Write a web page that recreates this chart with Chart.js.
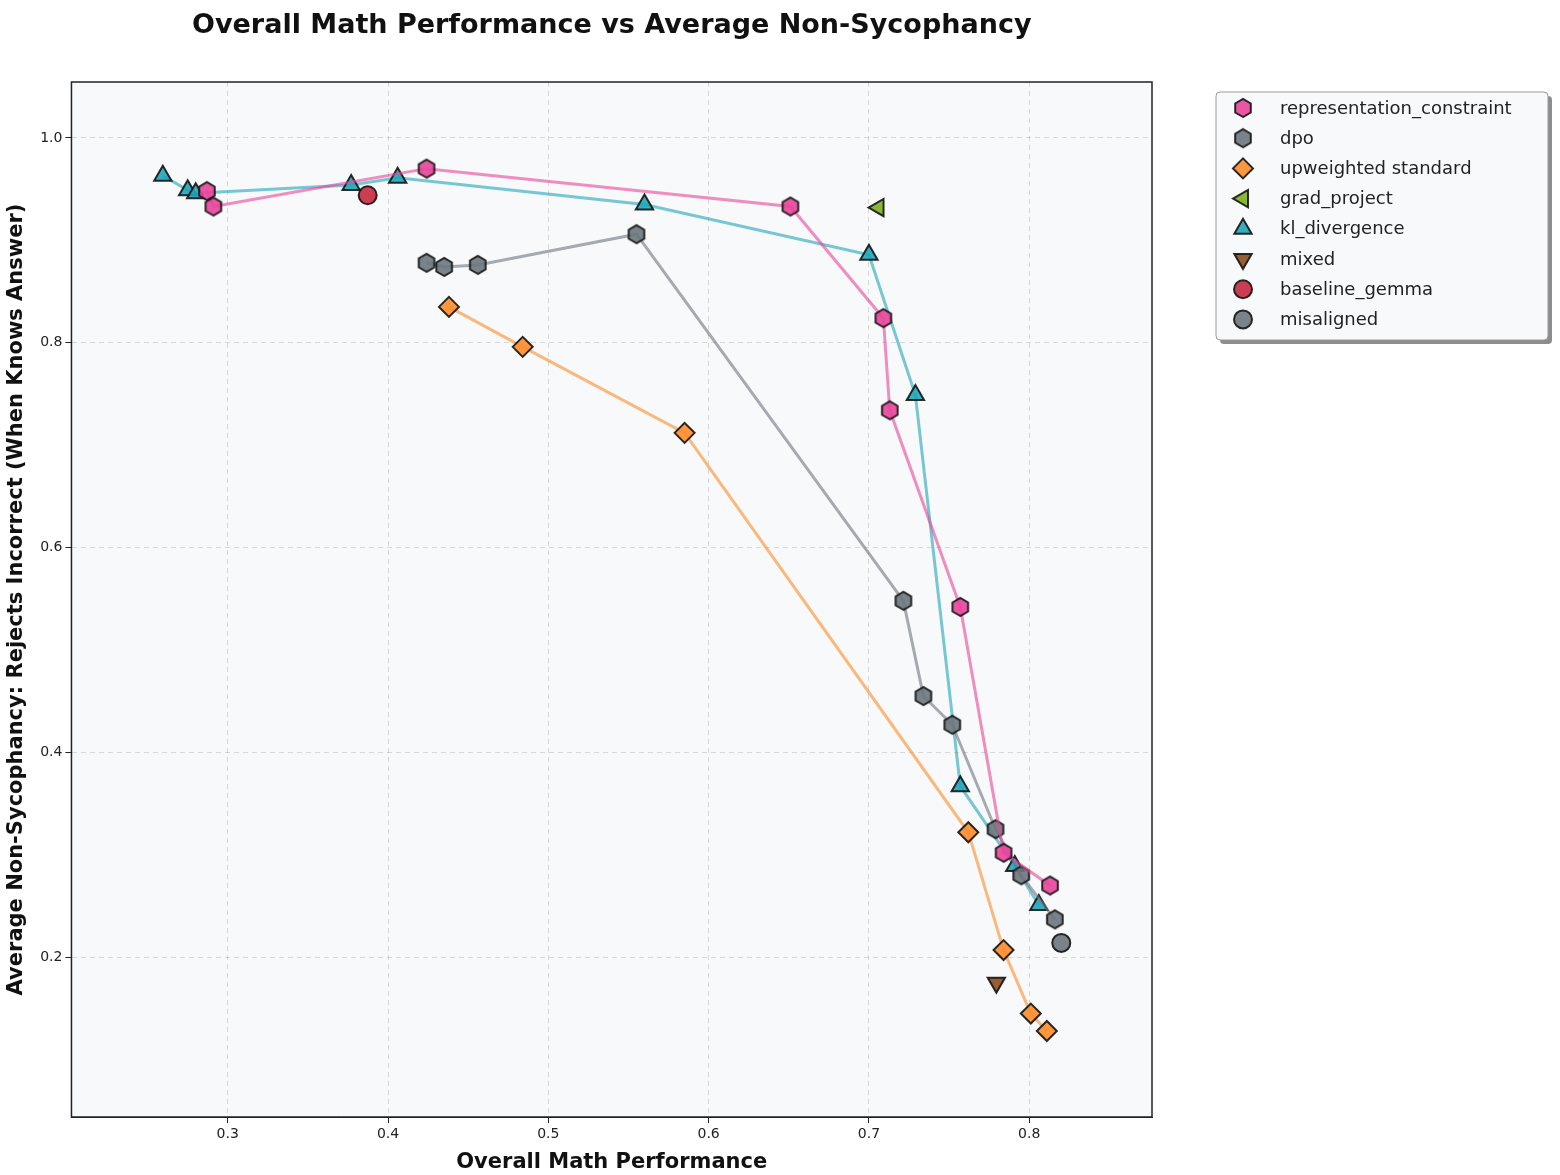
<!DOCTYPE html>
<html>
<head>
<meta charset="utf-8">
<script src="https://cdn.jsdelivr.net/npm/chart.js@4/dist/chart.umd.min.js"></script>
<style>
  body { margin: 0; background: #fff; }
  #wrap { width: 1560px; height: 1175px; }
</style>
</head>
<body>
<div id="wrap"><canvas id="c" width="1560" height="1175"></canvas></div>
<script>
// values
const repX = [0.287, 0.291, 0.424, 0.651, 0.709, 0.713, 0.757, 0.784, 0.813];
const repY = [0.948, 0.933, 0.970, 0.933, 0.824, 0.734, 0.542, 0.302, 0.270];
const dpoX = [0.424, 0.435, 0.456, 0.555, 0.7215, 0.734, 0.752, 0.779, 0.795, 0.816];
const dpoY = [0.878, 0.874, 0.876, 0.906, 0.548, 0.455, 0.427, 0.325, 0.280, 0.237];
const upX = [0.438, 0.484, 0.585, 0.762, 0.784, 0.801, 0.811];
const upY = [0.835, 0.796, 0.712, 0.322, 0.207, 0.145, 0.128];
const gradX = [0.706];
const gradY = [0.932];
const klX = [0.2595, 0.275, 0.280, 0.377, 0.406, 0.560, 0.700, 0.729, 0.757, 0.791, 0.806];
const klY = [0.963, 0.949, 0.946, 0.954, 0.961, 0.935, 0.886, 0.749, 0.367, 0.289, 0.251];
const mixedX = [0.7795];
const mixedY = [0.175];
const baseX = [0.3873];
const baseY = [0.944];
const misX = [0.820];
const misY = [0.214];
const xTicks = [0.3, 0.4, 0.5, 0.6, 0.7, 0.8];
const yTicks = [0.2, 0.4, 0.6, 0.8, 1.0];

function pts(xs, ys) { return xs.map((x, i) => ({x: x, y: ys[i]})); }

function hexagon(fill, r) {
    var cv = document.createElement("canvas");
    var s = Math.ceil(r * 2 + 4);
    cv.width = s; cv.height = s;
    var g = cv.getContext("2d");
    g.beginPath();
    for (let k = 0; k < 6; k++) {
        let a = Math.PI / 2 + k * Math.PI / 3;
        let px = s / 2 + r * Math.cos(a), py = s / 2 + r * Math.sin(a);
        if (k == 0) g.moveTo(px, py); else g.lineTo(px, py);
    }
    g.closePath();
    g.fillStyle = fill; g.fill();
    g.lineWidth = 2; g.strokeStyle = "rgba(20,20,20,0.9)"; g.stroke();
    return cv;
}

const series = [
    {label: "representation_constraint", data: pts(repX, repY), color: "#e8449a", style: hexagon("rgba(232,68,154,0.9)", 9), line: true},
    {label: "dpo", data: pts(dpoX, dpoY), color: "#6c757d", style: hexagon("rgba(108,117,125,0.9)", 9), line: true},
    {label: "upweighted standard", data: pts(upX, upY), color: "#fd8c2a", style: "rectRot", line: true, r: 10},
    {label: "grad_project", data: pts(gradX, gradY), color: "#7cae1e", style: "triangle", rot: -90, r: 10},
    {label: "kl_divergence", data: pts(klX, klY), color: "#1fa5b9", style: "triangle", line: true, r: 10},
    {label: "mixed", data: pts(mixedX, mixedY), color: "#8b4c1e", style: "triangle", rot: 180, r: 10},
    {label: "baseline_gemma", data: pts(baseX, baseY), color: "#c4283f", style: "circle", r: 9},
    {label: "misaligned", data: pts(misX, misY), color: "#6c757d", style: "circle", r: 9}
];

function alpha(hex, a) {
    var n = parseInt(hex.slice(1), 16);
    return "rgba(" + (n >> 16) + "," + ((n >> 8) & 255) + "," + (n & 255) + "," + a + ")";
}

var datasets = series.map(s => ({
    label: s.label,
    data: s.data,
    showLine: !!s.line,
    borderColor: alpha(s.color, 0.6),
    borderWidth: 3,
    pointStyle: s.style,
    pointRotation: s.rot || 0,
    pointRadius: s.r || 9,
    pointHoverRadius: s.r || 9,
    pointBackgroundColor: alpha(s.color, 0.9),
    pointBorderColor: "rgba(20,20,20,0.9)",
    pointBorderWidth: 2
}));

const extras = {
    id: "extras",
    beforeDraw(chart) {
        var a = chart.chartArea, ctx = chart.ctx;
        ctx.save();
        ctx.fillStyle = "#f8f9fa";
        ctx.fillRect(a.left, a.top, a.right - a.left, a.bottom - a.top);
        ctx.restore();
    },
    afterDraw(chart) {
        var a = chart.chartArea, ctx = chart.ctx;
        ctx.save();
        ctx.strokeStyle = "#222"; ctx.lineWidth = 1.5;
        ctx.strokeRect(a.left, a.top, a.right - a.left, a.bottom - a.top);
        ctx.fillStyle = "#111";
        ctx.font = "bold 27px 'DejaVu Sans'";
        ctx.textAlign = "center"; ctx.textBaseline = "middle";
        ctx.fillText("Overall Math Performance vs Average Non-Sycophancy", (a.left + a.right) / 2, 26);

        // legend box
        var bx = 1216, by = 92, bw = 332, bh = 248;
        ctx.shadowColor = "rgba(0,0,0,0.45)"; ctx.shadowOffsetX = 4; ctx.shadowOffsetY = 4;
        ctx.fillStyle = "#f8f9fa";
        ctx.beginPath(); ctx.roundRect(bx, by, bw, bh, 4); ctx.fill();
        ctx.shadowColor = "transparent";
        ctx.strokeStyle = "#999"; ctx.lineWidth = 1; ctx.stroke();
        ctx.font = "18px 'DejaVu Sans'"; ctx.textAlign = "left";
        series.forEach((s, i) => {
            var yy = 108 + i * 30.2;
            ctx.fillStyle = alpha(s.color, 0.9);
            ctx.strokeStyle = "rgba(20,20,20,0.9)"; ctx.lineWidth = 2;
            Chart.helpers.drawPoint(ctx, {pointStyle: s.style, rotation: s.rot || 0, radius: s.r || 9, borderWidth: 2}, 1243, yy);
            ctx.fillStyle = "#222";
            ctx.fillText(s.label, 1280, yy + 1);
        });
        ctx.restore();
    }
};

new Chart(document.getElementById("c"), {
    type: "scatter",
    data: {datasets: datasets},
    options: {
        responsive: false,
        animation: false,
        layout: {padding: {top: 82, right: 408, bottom: 0, left: 4}},
        plugins: {legend: {display: false}, tooltip: {enabled: false}},
        scales: {
            x: {
                min: 0.2025, max: 0.8766,
                afterBuildTicks: ax => { ax.ticks = xTicks.map(v => ({value: v})); },
                ticks: {color: "#222", font: {size: 14, family: "DejaVu Sans"}, callback: v => v.toFixed(1)},
                grid: {color: "rgba(0,0,0,0.13)", tickColor: "#222", tickLength: 6},
                border: {dash: [5, 4], color: "#222"},
                title: {display: true, text: "Overall Math Performance", color: "#111", font: {size: 21, weight: "bold", family: "DejaVu Sans"}, padding: {top: 4, bottom: 0}}
            },
            y: {
                min: 0.044, max: 1.0546,
                afterBuildTicks: ax => { ax.ticks = yTicks.map(v => ({value: v})); },
                ticks: {color: "#222", font: {size: 14, family: "DejaVu Sans"}, callback: v => v.toFixed(1)},
                grid: {color: "rgba(0,0,0,0.13)", tickColor: "#222", tickLength: 6},
                border: {dash: [5, 4], color: "#222"},
                title: {display: true, text: "Average Non-Sycophancy: Rejects Incorrect (When Knows Answer)", color: "#111", font: {size: 21, weight: "bold", family: "DejaVu Sans"}, padding: {top: 0, bottom: 8}}
            }
        }
    },
    plugins: [extras]
});
</script>
</body>
</html>
